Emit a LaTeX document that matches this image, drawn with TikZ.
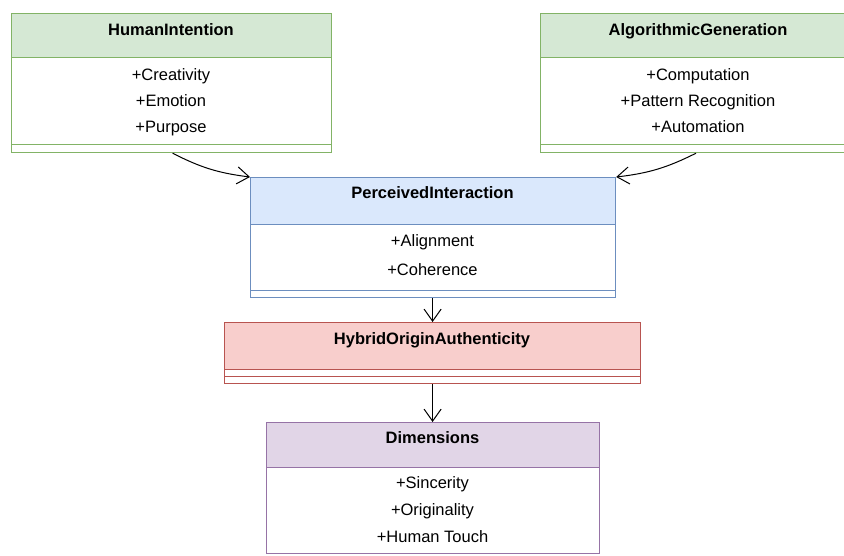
\documentclass[tikz,border=0pt]{standalone}
\usepackage{fontspec}
\setmainfont{Liberation Sans}
\usepackage{tikz}
\usetikzlibrary{arrows.meta}
\definecolor{greenfill}{HTML}{D5E8D4}
\definecolor{greenline}{HTML}{82B366}
\definecolor{bluefill}{HTML}{DAE8FC}
\definecolor{blueline}{HTML}{6C8EBF}
\definecolor{redfill}{HTML}{F8CECC}
\definecolor{redline}{HTML}{B85450}
\definecolor{purplefill}{HTML}{E1D5E7}
\definecolor{purpleline}{HTML}{9673A6}
\tikzset{
  classbox/.style={draw, anchor=north west, inner sep=0pt, line width=1.2pt},
  classtitle/.style={font=\fontsize{16.5}{20}\selectfont\bfseries, inner sep=0pt, anchor=base},
  classattr/.style={font=\fontsize{16.5}{20}\selectfont, inner sep=0pt, anchor=base},
  link/.style={-{Straight Barb[length=12pt,width=17pt]}, line width=1pt}
}

\begin{document}
\begin{tikzpicture}[x=1pt,y=1pt]
\useasboundingbox (0,0) rectangle (844,-555);

% HumanIntention
\node[classbox, draw=greenline, fill=greenfill, minimum width=320, minimum height=44] (humanHead) at (11,-13) {};
\node[classbox, draw=greenline, fill=white, minimum width=320, minimum height=87] (humanBody) at (11,-57) {};
\node[classbox, draw=greenline, fill=white, minimum width=320, minimum height=8] (humanFoot) at (11,-144) {};
\node[classtitle] (humanTitle) at (171,-35) {HumanIntention};
\node[classattr] (humanA) at (171,-80) {+Creativity};
\node[classattr] (humanB) at (171,-106) {+Emotion};
\node[classattr] (humanC) at (171,-132) {+Purpose};

% AlgorithmicGeneration
\node[classbox, draw=greenline, fill=greenfill, minimum width=320, minimum height=44] (algoHead) at (540,-13) {};
\node[classbox, draw=greenline, fill=white, minimum width=320, minimum height=87] (algoBody) at (540,-57) {};
\node[classbox, draw=greenline, fill=white, minimum width=320, minimum height=8] (algoFoot) at (540,-144) {};
\node[classtitle] (algoTitle) at (698,-35) {AlgorithmicGeneration};
\node[classattr] (algoA) at (698,-80) {+Computation};
\node[classattr] (algoB) at (698,-106) {+Pattern Recognition};
\node[classattr] (algoC) at (698,-132) {+Automation};

% PerceivedInteraction
\node[classbox, draw=blueline, fill=bluefill, minimum width=365, minimum height=47] (percHead) at (250,-177) {};
\node[classbox, draw=blueline, fill=white, minimum width=365, minimum height=66] (percBody) at (250,-224) {};
\node[classbox, draw=blueline, fill=white, minimum width=365, minimum height=7] (percFoot) at (250,-290) {};
\node[classtitle] (percTitle) at (432.5,-198) {PerceivedInteraction};
\node[classattr] (percA) at (432.5,-246) {+Alignment};
\node[classattr] (percB) at (432.5,-275) {+Coherence};

% HybridOriginAuthenticity
\node[classbox, draw=redline, fill=redfill, minimum width=416, minimum height=47] (hybridHead) at (224,-322) {};
\node[classbox, draw=redline, fill=white, minimum width=416, minimum height=7] (hybridBody) at (224,-369) {};
\node[classbox, draw=redline, fill=white, minimum width=416, minimum height=7] (hybridFoot) at (224,-376) {};
\node[classtitle] (hybridTitle) at (432,-344) {HybridOriginAuthenticity};

% Dimensions
\node[classbox, draw=purpleline, fill=purplefill, minimum width=333, minimum height=45] (dimHead) at (266,-422) {};
\node[classbox, draw=purpleline, fill=white, minimum width=333, minimum height=86] (dimBody) at (266,-467) {};
\node[classtitle] (dimTitle) at (432.5,-443) {Dimensions};
\node[classattr] (dimA) at (432.5,-488) {+Sincerity};
\node[classattr] (dimB) at (432.5,-515) {+Originality};
\node[classattr] (dimC) at (432.5,-542) {+Human Touch};

% links
\draw[link] ([xshift=1pt]humanFoot.south) to[bend right=10] (percHead.north west);
\draw[link] ([xshift=-2pt]algoFoot.south west -| algoTitle) to[bend left=10] (percHead.north east);
\draw[link] (hybridHead.north |- percFoot.south) -- (hybridHead.north);
\draw[link] (hybridFoot.south) -- (hybridFoot.south |- dimHead.north);
\end{tikzpicture}
\end{document}
